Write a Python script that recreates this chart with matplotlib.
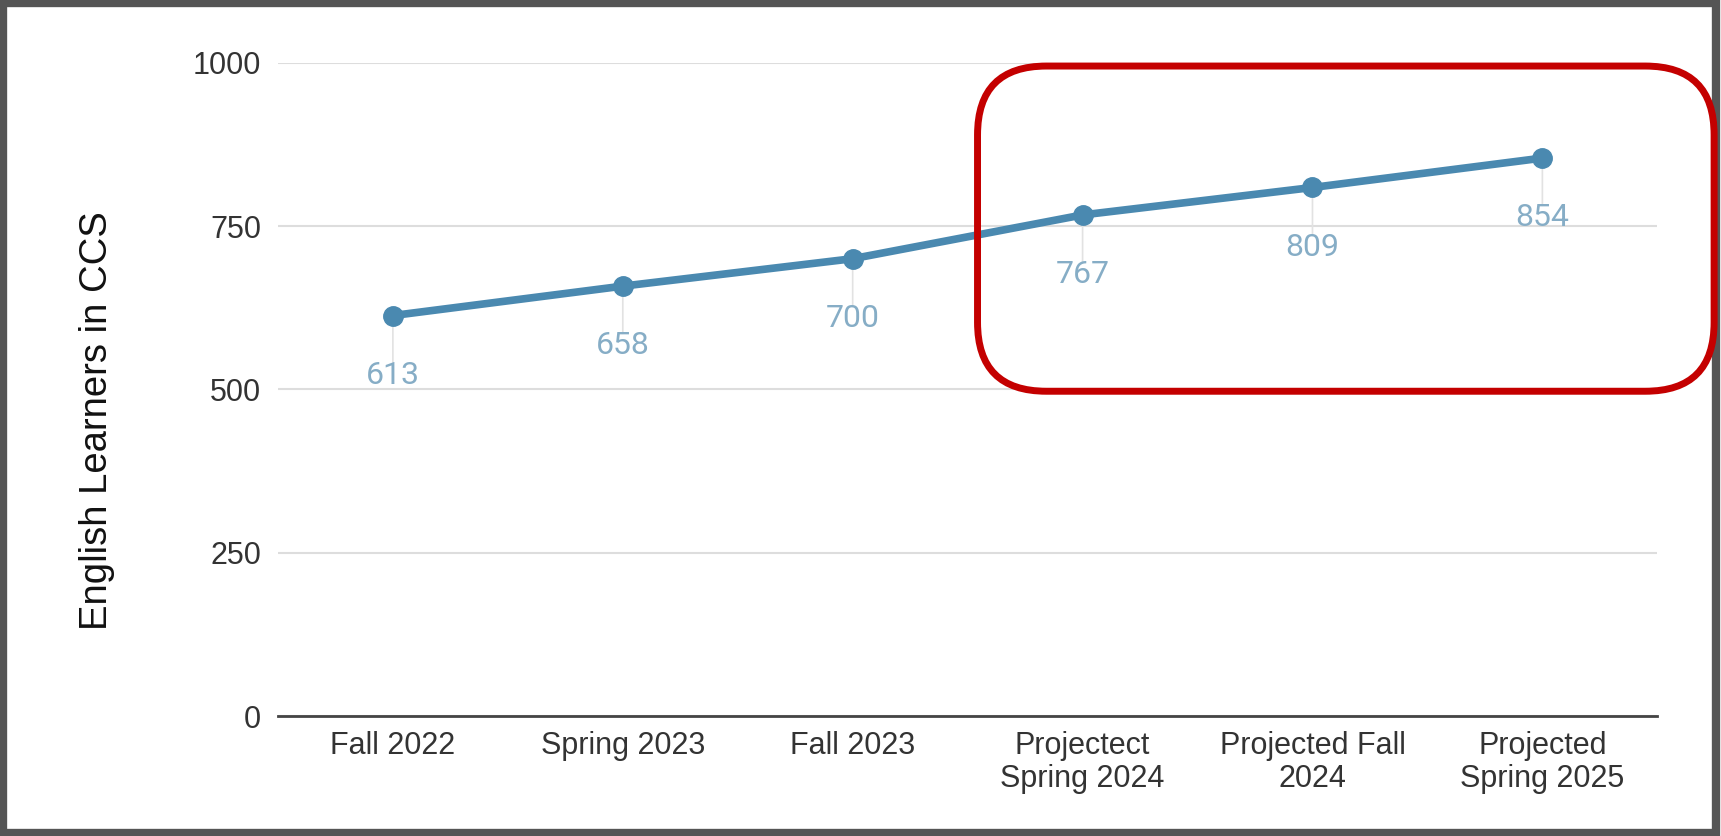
import matplotlib.pyplot as plt
from matplotlib.patches import FancyBboxPatch, Rectangle

plt.rcParams['font.family'] = ['Liberation Sans', 'DejaVu Sans']

terms = ['Fall 2022', 'Spring 2023', 'Fall 2023', 'Projectect\nSpring 2024',
         'Projected Fall\n2024', 'Projected\nSpring 2025']
learners = [613, 658, 700, 767, 809, 854]
yticks = [0, 250, 500, 750, 1000]

line_col = '#4a89b0'
label_col = '#86adc6'

fig = plt.figure(figsize=(17.21, 8.36), dpi=100)
ax = fig.add_axes([0.1615, 0.1435, 0.8015, 0.7815])

x = list(range(len(terms)))
ax.plot(x, learners, color=line_col, lw=5.5, marker='o', ms=14,
        solid_capstyle='round', zorder=3)

for xi, v in zip(x, learners):
    # faint leader line + value below the point
    ax.annotate('', xy=(xi, v), xytext=(0, -36), textcoords='offset points',
                arrowprops=dict(arrowstyle='-', color='#e2e2e2', lw=1.2),
                zorder=1)
    ax.annotate(str(v), xy=(xi, v), xytext=(0, -43), textcoords='offset points',
                ha='center', va='center', fontsize=23, color=label_col,
                family=['Roboto', 'DejaVu Sans'])

ax.set_xlim(-0.5, len(terms) - 0.5)
ax.set_ylim(0, 1000)
ax.set_yticks(yticks)
ax.set_xticks(x)
ax.set_xticklabels(terms, fontsize=22, color='#333333', linespacing=1.1)
ax.tick_params(axis='y', labelsize=22, labelcolor='#333333', length=0, pad=12)
ax.tick_params(axis='x', length=0, pad=11)
ax.grid(axis='y', color='#dddddd', lw=1.5)
ax.set_axisbelow(True)
for s in ['top', 'right', 'left']:
    ax.spines[s].set_visible(False)
ax.spines['bottom'].set_color('#444444')
ax.spines['bottom'].set_linewidth(2)

ax.set_ylabel('English Learners in CCS', fontsize=27.5, color='#111111')
ax.yaxis.set_label_coords(-0.118, 0.452)

# outer frame
fig.patches.append(Rectangle((0.002, 0.004), 0.995, 0.992, transform=fig.transFigure,
                             fill=False, ec='#555555', lw=6))

# red highlight box
fig.patches.append(FancyBboxPatch((0.568, 0.532), 0.428, 0.389,
                                  boxstyle='round,pad=0,rounding_size=0.04',
                                  transform=fig.transFigure, fill=False,
                                  ec='#c40000', lw=5, mutation_aspect=2.06))

plt.savefig('out.png', dpi=100)
